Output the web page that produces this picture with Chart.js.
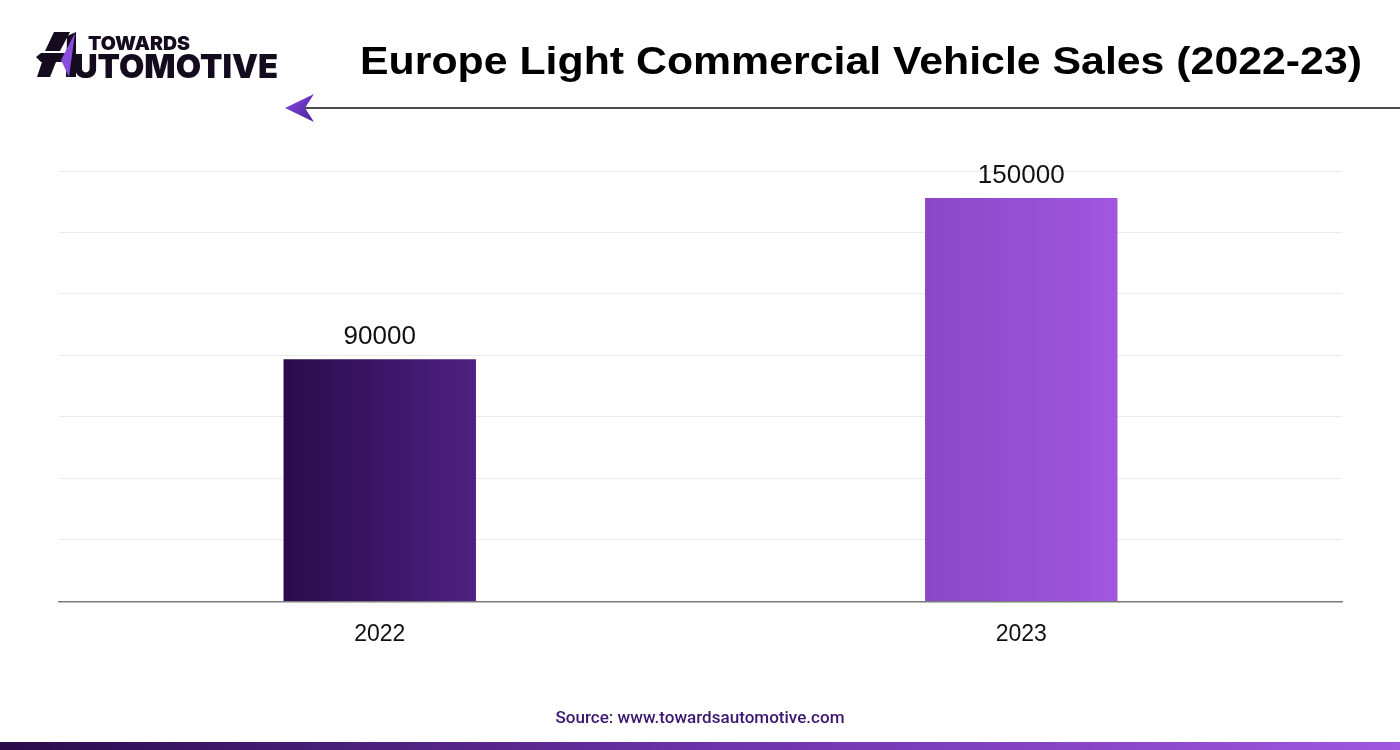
<!DOCTYPE html>
<html>
<head>
<meta charset="utf-8">
<script src="https://cdn.jsdelivr.net/npm/chart.js@4.4.1/dist/chart.umd.min.js"></script>
<style>
  html, body { margin: 0; padding: 0; background: #ffffff; }
  body { width: 1400px; height: 750px; position: relative; overflow: hidden; }
  #chart { position: absolute; left: 0; top: 0; }
  svg.overlay { position: absolute; left: 0; top: 0; pointer-events: none; }
</style>
</head>
<body>
<canvas id="chart" width="1400" height="750"></canvas>
<svg class="overlay" width="1400" height="750" xmlns="http://www.w3.org/2000/svg">
  <defs>
    <linearGradient id="footGrad" x1="0" y1="0" x2="1" y2="0">
      <stop offset="0" stop-color="#2a0b4b"/>
      <stop offset="0.5" stop-color="#6a32a8"/>
      <stop offset="1" stop-color="#a056e0"/>
    </linearGradient>
    <linearGradient id="arrowGrad" x1="0" y1="0" x2="1" y2="1">
      <stop offset="0" stop-color="#8a4de6"/>
      <stop offset="1" stop-color="#4a1f9a"/>
    </linearGradient>
  </defs>
  <!-- logo -->
  <g>
    <polygon points="54,32 70,32 60,51 45,51" fill="#140b1f"/>
    <polygon points="36,57 41,53 66,53 66,62 41,62" fill="#140b1f"/>
    <polygon points="42,62 56,62 50,77 37,77" fill="#140b1f"/>
    <polygon points="67,36 76,32 76,77 66,77" fill="#140b1f"/>
    <polygon points="75,33 61,60 69,77" fill="#8a4de0"/>
    <text x="88" y="50" font-family="Inter, 'DejaVu Sans', sans-serif" font-weight="900" font-size="19" fill="#140b1f" textLength="102" lengthAdjust="spacingAndGlyphs">TOWARDS</text>
    <text x="74" y="78" font-family="Inter, 'DejaVu Sans', sans-serif" font-weight="900" font-size="33" fill="#140b1f" textLength="204" lengthAdjust="spacingAndGlyphs">UTOMOTIVE</text>
  </g>
  <!-- title -->
  <text x="360" y="74" font-family="'Liberation Sans', Arial, sans-serif" font-weight="700" font-size="39" fill="#000000" textLength="1002" lengthAdjust="spacingAndGlyphs">Europe Light Commercial Vehicle Sales (2022-23)</text>
  <line x1="304" y1="108" x2="1400" y2="108" stroke="#111111" stroke-width="1.6"/>
  <polygon points="285,108 314,94 305,108 314,122" fill="url(#arrowGrad)"/>
  <!-- source -->
  <text x="700" y="723" text-anchor="middle" font-family="Roboto, 'Liberation Sans', sans-serif" font-weight="500" font-size="16" fill="#3a1670" textLength="289" lengthAdjust="spacingAndGlyphs">Source: www.towardsautomotive.com</text>
  <rect x="0" y="742" width="1400" height="8" fill="url(#footGrad)"/>
</svg>
<script>
// ---- data ----
const categories = ['2022', '2023'];
const salesValues = [90000, 150000];
const barColorStart = ['#2a0b4b', '#8a48c6'];
const barColorEnd = ['#4f2082', '#a156e0'];
const gridTickValues = [0, 22857, 45714, 68571, 91429, 114286, 137143, 160000];

const BAR_PCT = 0.3;

function barFill(ctx) {
  const chart = ctx.chart;
  const area = chart.chartArea;
  const i = ctx.dataIndex;
  if (!area || !chart.scales.x) return barColorEnd[i];
  const xs = chart.scales.x;
  const cx = xs.getPixelForValue(i);
  const hw = (area.right - area.left) / categories.length * BAR_PCT / 2;
  const g = chart.ctx.createLinearGradient(cx - hw, 0, cx + hw, 0);
  g.addColorStop(0, barColorStart[i]);
  g.addColorStop(1, barColorEnd[i]);
  return g;
}

const valueLabels = {
  id: 'valueLabels',
  afterDatasetsDraw(chart) {
    const ctx = chart.ctx;
    const meta = chart.getDatasetMeta(0);
    ctx.save();
    ctx.font = '26px "Liberation Sans", Arial, sans-serif';
    ctx.fillStyle = '#111111';
    ctx.textAlign = 'center';
    ctx.textBaseline = 'alphabetic';
    meta.data.forEach((bar, i) => {
      ctx.fillText(String(salesValues[i]), bar.x, bar.y - 15);
    });
    ctx.restore();
  }
};

new Chart(document.getElementById('chart'), {
  type: 'bar',
  data: {
    labels: categories,
    datasets: [{
      data: salesValues,
      backgroundColor: barFill,
      borderWidth: 0,
      barPercentage: BAR_PCT,
      categoryPercentage: 1.0
    }]
  },
  options: {
    responsive: false,
    animation: false,
    devicePixelRatio: 1,
    layout: { padding: { left: 59, right: 58, top: 171, bottom: 83 } },
    plugins: { legend: { display: false }, tooltip: { enabled: false } },
    scales: {
      x: {
        grid: { display: false, drawTicks: false },
        border: { display: true, color: '#7a7a7a', width: 1.5 },
        ticks: {
          color: '#111111',
          padding: 19,
          font: { family: '"Liberation Sans", Arial, sans-serif', size: 23 }
        }
      },
      y: {
        min: 0,
        max: 160000,
        afterBuildTicks(scale) { scale.ticks = gridTickValues.map(v => ({ value: v })); },
        grid: { color: '#ebebeb', lineWidth: 1, drawTicks: false },
        border: { display: false },
        ticks: { display: false }
      }
    }
  },
  plugins: [valueLabels]
});
</script>
</body>
</html>
